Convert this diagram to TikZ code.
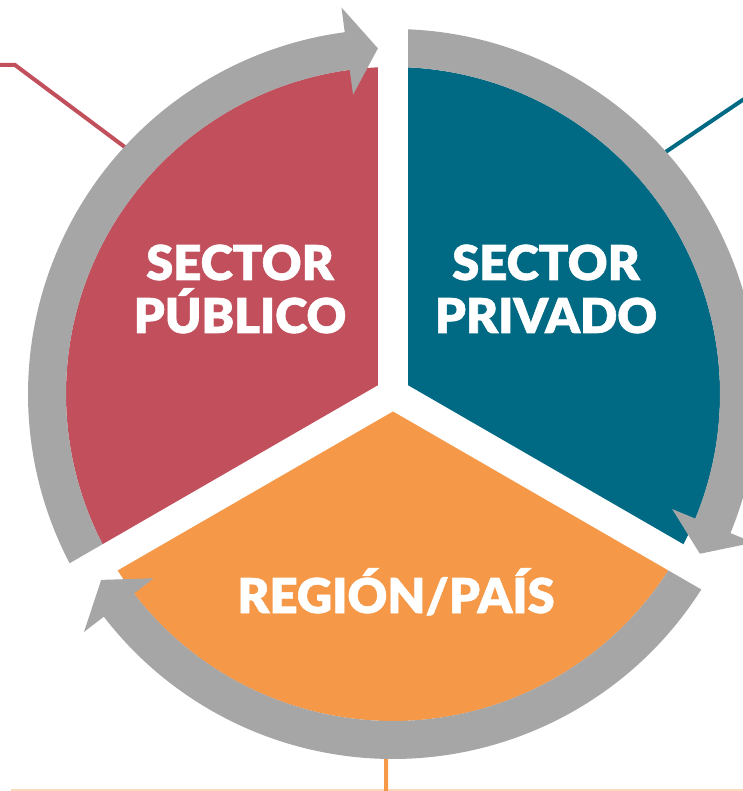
\documentclass[tikz,border=0pt]{standalone}
\usepackage{fontspec}
\usepackage{tikz}
\newfontfamily\lblfont{Lato Black}[FakeBold=1.2,FakeStretch=1.02]
\definecolor{pubred}{RGB}{193,80,92}
\definecolor{privblue}{RGB}{0,106,132}
\definecolor{regorange}{RGB}{245,152,72}
\definecolor{ringgray}{RGB}{166,166,166}
\definecolor{peach}{RGB}{253,218,185}

\begin{document}
\begin{tikzpicture}[x=1pt,y=1pt,
    piece/.style={fill=#1},
    cyclearrow/.style={fill=ringgray},
    cut/.style={draw=white,line width=30pt},
    leader/.style={draw=#1,line width=4pt},
    sectortext/.style={text=white,align=center,font=\lblfont\fontsize{48}{53}\selectfont}]
    \useasboundingbox (-393,-397) rectangle (349,394);
    % leader ends
    \coordinate (pubOut) at (-400,329);
    \coordinate (pubKnee) at (-378,329);
    \coordinate (pubRim) at (137.2:355);
    \coordinate (privRim) at (41.8:355);
    \coordinate (privOut) at (360,301);
    \coordinate (regRim) at (268.9:355);
    \coordinate (regOut) at (-7,-400);
    \coordinate (baseL) at (-382,-396);
    \coordinate (baseR) at (360,-396);
    \draw[peach,line width=1.5pt] (baseL) -- (baseR);
    \draw[leader=pubred] (pubOut) -- (pubKnee) -- (pubRim);
    \draw[leader=privblue] (privRim) -- (privOut);
    \draw[leader=regorange] (regRim) -- (regOut);
    % the three sectors
    \foreach \a/\c in {90/pubred,-30/privblue,210/regorange}
      \fill[piece=\c] (0,0) -- (\a:327) arc[start angle=\a, delta angle=120, radius=327] -- cycle;
    % ring arrows, clockwise
    \foreach \rot in {0,-120,-240}{
      \begin{scope}[rotate=\rot]
        \fill[cyclearrow] (210:327) arc[start angle=210, end angle=97.6, radius=327]
          -- (97.6:302) -- (92.5:346) -- (97.6:390) -- (97.6:365)
          arc[start angle=97.6, end angle=210, radius=365] -- cycle;
      \end{scope}
    }
    % gaps
    \foreach \a in {90,210,330}
      \draw[cut] (0,0) -- (\a:420);
    \node[sectortext] (publico) at (-153,105) {SECTOR\\PÚBLICO};
    \node[sectortext] (privado) at (153,105) {SECTOR\\PRIVADO};
    \node[sectortext,anchor=base] (region) at (3,-219) {REGIÓN/PAÍS};
\end{tikzpicture}
\end{document}
